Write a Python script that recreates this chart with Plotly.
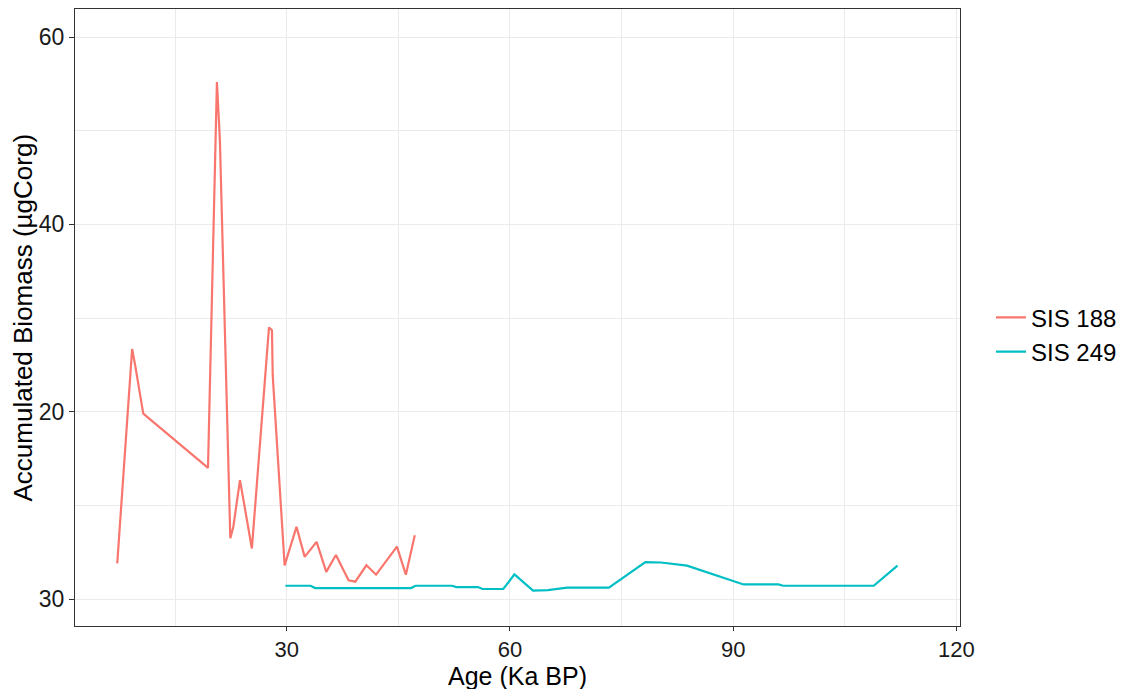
import plotly.graph_objects as go

# SIS 188 (red)
age_188 = [7.2, 9.2, 9.6, 10.7, 19.4, 20.6, 21.0, 22.4, 22.8, 23.7, 25.3, 27.6, 28.0, 28.1,
           29.7, 30.2, 31.3, 32.4, 34.0, 35.3, 36.6, 38.3, 39.2, 40.7, 42.0, 44.8, 46.0, 47.2]
bio_188 = [3.8, 26.7, 25.0, 19.8, 14.0, 55.2, 49.0, 6.5, 7.7, 12.7, 5.4, 29.0, 28.7, 23.9,
           3.6, 4.9, 7.7, 4.5, 6.1, 2.9, 4.7, 2.0, 1.85, 3.6, 2.6, 5.6, 2.6, 6.8]

# SIS 249 (cyan)
age_249 = [29.8, 33.2, 33.8, 46.7, 47.3, 52.2, 52.8, 55.7, 56.3, 59.1, 60.6, 63.1, 65.1, 67.7,
           73.3, 78.2, 80.3, 83.8, 91.4, 96.1, 96.7, 108.9, 112.1]
bio_249 = [1.42, 1.42, 1.17, 1.17, 1.42, 1.42, 1.28, 1.28, 1.07, 1.07, 2.63, 0.89, 0.96, 1.21,
           1.21, 3.95, 3.9, 3.56, 1.56, 1.56, 1.42, 1.42, 3.56]

y_tick_vals = [0, 20, 40, 60]
y_tick_text = ["30", "20", "40", "60"]
x_tick_vals = [30, 60, 90, 120]

series_names = ["SIS 188", "SIS 249"]
series_colors = ["#F8766D", "#00BFC4"]
x_title = "Age (Ka BP)"
y_title = "Accumulated Biomass (µgCorg)"

fig = go.Figure()
for name, xs, ys, col in zip(series_names, [age_188, age_249], [bio_188, bio_249], series_colors):
    fig.add_trace(go.Scatter(x=xs, y=ys, mode="lines", name=name,
                             line=dict(color=col, width=2.2)))

font_family = "Liberation Sans, Arial, sans-serif"
fig.update_layout(
    width=1123, height=681,
    margin=dict(l=67, r=171, t=1, b=63),
    plot_bgcolor="white", paper_bgcolor="white",
    font=dict(family=font_family, size=22, color="black"),
    legend=dict(x=1.035, xanchor="left", y=0.472, yanchor="middle",
                font=dict(size=24, color="black"), bgcolor="rgba(0,0,0,0)",
                tracegroupgap=0, itemwidth=30),
    showlegend=True,
    annotations=[
        dict(text=x_title, xref="paper", yref="paper", x=0.5, y=0, xanchor="center",
             yanchor="middle", yshift=-50, showarrow=False, font=dict(size=25, color="black")),
        dict(text=y_title, xref="paper", yref="paper", x=0, y=0.5, xanchor="center",
             yanchor="middle", xshift=-53, textangle=-90, showarrow=False,
             font=dict(size=26, color="black")),
    ],
)
fig.update_xaxes(
    range=[1.52, 120.5], tickvals=x_tick_vals, showgrid=True, gridcolor="#EBEBEB", gridwidth=1,
    minor=dict(dtick=15, tick0=0, showgrid=True, gridcolor="#EBEBEB", gridwidth=1),
    showline=True, linecolor="#333333", linewidth=1, mirror=True,
    ticks="outside", ticklen=4, tickcolor="#333333", zeroline=False, automargin=False,
    tickfont=dict(size=22, color="#1a1a1a"),
)
fig.update_yaxes(
    range=[-2.88, 63.0], tickvals=y_tick_vals, ticktext=y_tick_text,
    showgrid=True, gridcolor="#EBEBEB", gridwidth=1,
    minor=dict(dtick=10, tick0=0, showgrid=True, gridcolor="#EBEBEB", gridwidth=1),
    showline=True, linecolor="#333333", linewidth=1, mirror=True,
    ticks="outside", ticklen=5, tickcolor="#333333", zeroline=False, automargin=False,
    tickfont=dict(size=23, color="#1a1a1a"),
)

fig.write_html("out.html")
